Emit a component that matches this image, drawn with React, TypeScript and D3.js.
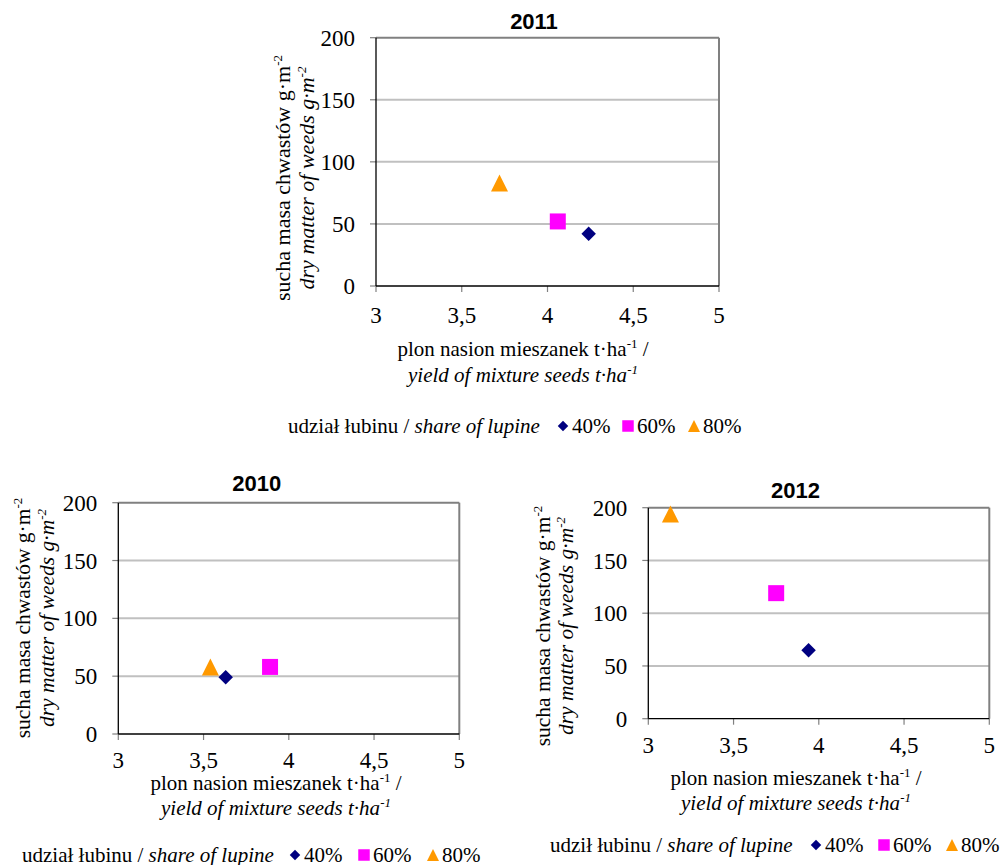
import * as d3 from "d3";

// udział łubinu w mieszance
const SHARES = ["40%", "60%", "80%"];
const SHARE_COLORS = ["#000080", "#FF00FF", "#FF9900"];

// plon nasion mieszanek (t/ha) i sucha masa chwastów (g/m2), kolejność jak SHARES
const YIELD_2010 = [3.63, 3.89, 3.54];
const WEEDS_2010 = [49, 58, 58];
const YIELD_2011 = [4.24, 4.06, 3.72];
const WEEDS_2011 = [42, 52, 83];
const YIELD_2012 = [3.94, 3.75, 3.13];
const WEEDS_2012 = [65, 119, 194];

const X_TICKS = [3, 3.5, 4, 4.5, 5];
const Y_TICKS = [0, 50, 100, 150, 200];

const SERIF = '"Liberation Serif", "Times New Roman", Times, "DejaVu Serif", serif';
const SANS = '"Liberation Sans", Arial, sans-serif';

type SymbolKind = "diamond" | "square" | "triangle";
const SHAPES: SymbolKind[] = ["diamond", "square", "triangle"];

const diamondType: d3.SymbolType = {
  draw(ctx, size) {
    const r = Math.sqrt(size) / 2;
    ctx.moveTo(0, -r);
    ctx.lineTo(r, 0);
    ctx.lineTo(0, r);
    ctx.lineTo(-r, 0);
    ctx.closePath();
  },
};

// Excel-style triangle: width == height
const triangleType: d3.SymbolType = {
  draw(ctx, size) {
    const s = Math.sqrt(size);
    ctx.moveTo(0, -s / 2);
    ctx.lineTo(s / 2, s / 2);
    ctx.lineTo(-s / 2, s / 2);
    ctx.closePath();
  },
};

function markerPath(kind: SymbolKind, side: number) {
  const type =
    kind === "diamond" ? diamondType : kind === "square" ? d3.symbolSquare : triangleType;
  return d3.symbol().type(type).size(side * side)() ?? "";
}

const MARK_SIDE = { diamond: 14.5, square: 16, triangle: 17 };
const LEGEND_SIDE = { diamond: 10.5, square: 11.5, triangle: 12 };

interface PanelLayout {
  year: string;
  xs: number[];
  ys: number[];
  left: number;
  right: number;
  top: number;
  bottom: number;
  titleX: number;
  titleY: number;
  xTitleX: number;
  xTitleY: [number, number];
  xTickY: number;
  yTitleX: [number, number];
  yTitleCY: number;
  yTitleSize: number;
  legendLabel: string;
  legendX: number;
  legendY: number;
  legendMarks: number[];
}

const PANELS: PanelLayout[] = [
  {
    year: "2011",
    xs: YIELD_2011,
    ys: WEEDS_2011,
    left: 376,
    right: 719,
    top: 37.7,
    bottom: 286,
    titleX: 534,
    titleY: 28.5,
    xTitleX: 523,
    xTitleY: [356, 382],
    xTickY: 323,
    yTitleX: [290, 314],
    yTitleCY: 178,
    yTitleSize: 22,
    legendLabel: "udział łubinu / ",
    legendX: 288,
    legendY: 433,
    legendMarks: [563, 628, 694],
  },
  {
    year: "2010",
    xs: YIELD_2010,
    ys: WEEDS_2010,
    left: 118.3,
    right: 459.3,
    top: 502.7,
    bottom: 734,
    titleX: 256.7,
    titleY: 491,
    xTitleX: 276,
    xTitleY: [790, 815],
    xTickY: 768,
    yTitleX: [30, 54],
    yTitleCY: 618,
    yTitleSize: 21.5,
    legendLabel: "udział łubinu / ",
    legendX: 22,
    legendY: 862,
    legendMarks: [295, 364, 433],
  },
  {
    year: "2012",
    xs: YIELD_2012,
    ys: WEEDS_2012,
    left: 648.3,
    right: 989.3,
    top: 507.7,
    bottom: 718.7,
    titleX: 795.6,
    titleY: 498,
    xTitleX: 796,
    xTitleY: [785, 810],
    xTickY: 753,
    yTitleX: [550, 573],
    yTitleCY: 626,
    yTitleSize: 21.5,
    legendLabel: "udził łubinu / ",
    legendX: 550,
    legendY: 852,
    legendMarks: [816, 884, 952],
  },
];

// text with a raised exponent, e.g. "t·ha" + "-1" + " /"
function WithSup({ base, sup, tail }: { base: string; sup: string; tail?: string }) {
  return (
    <>
      {base}
      <tspan dy={-8} fontSize={13}>
        {sup}
      </tspan>
      {tail ? <tspan dy={8}>{tail}</tspan> : null}
    </>
  );
}

function ScatterPanel({ p }: { p: PanelLayout }) {
  const x = d3.scaleLinear().domain([3, 5]).range([p.left, p.right]);
  const y = d3.scaleLinear().domain([0, 200]).range([p.bottom, p.top]);

  return (
    <g>
      <text
        x={p.titleX}
        y={p.titleY}
        textAnchor="middle"
        style={{ fontFamily: SANS, fontWeight: "bold", fontSize: 22 }}
      >
        {p.year}
      </text>

      {/* grid */}
      {Y_TICKS.filter((t) => t > 0 && t < 200).map((t) => (
        <line
          key={t}
          x1={p.left}
          x2={p.right}
          y1={y(t)}
          y2={y(t)}
          stroke="#c0c0c0"
          strokeWidth={2}
        />
      ))}

      {/* frame */}
      <line x1={p.left} x2={p.right} y1={p.top} y2={p.top} stroke="#808080" strokeWidth={2} />
      <line x1={p.right} x2={p.right} y1={p.top} y2={p.bottom} stroke="#808080" strokeWidth={2} />

      {/* y ticks */}
      {Y_TICKS.map((t) => (
        <g key={t}>
          <line
            x1={p.left - 6}
            x2={p.left}
            y1={y(t)}
            y2={y(t)}
            stroke="#808080"
            strokeWidth={1.2}
          />
          <text
            x={p.left - 21}
            y={y(t)}
            dy="0.35em"
            textAnchor="end"
            style={{ fontFamily: SERIF, fontSize: 23 }}
          >
            {t}
          </text>
        </g>
      ))}

      {/* x ticks */}
      {X_TICKS.map((t) => (
        <g key={t}>
          <line
            x1={x(t)}
            x2={x(t)}
            y1={p.bottom}
            y2={p.bottom + 6}
            stroke="#808080"
            strokeWidth={1.2}
          />
          <text
            x={x(t)}
            y={p.xTickY}
            textAnchor="middle"
            style={{ fontFamily: SERIF, fontSize: 23 }}
          >
            {String(t).replace(".", ",")}
          </text>
        </g>
      ))}

      {/* axes */}
      <line x1={p.left} x2={p.left} y1={p.top} y2={p.bottom} stroke="#000" strokeWidth={1.3} />
      <line x1={p.left} x2={p.right} y1={p.bottom} y2={p.bottom} stroke="#000" strokeWidth={1.3} />

      {/* points */}
      {SHARES.map((s, i) => (
        <path
          key={s}
          d={markerPath(SHAPES[i], MARK_SIDE[SHAPES[i]])}
          transform={`translate(${x(p.xs[i])},${y(p.ys[i])})`}
          fill={SHARE_COLORS[i]}
        />
      ))}

      {/* x axis title */}
      <text
        x={p.xTitleX}
        y={p.xTitleY[0]}
        textAnchor="middle"
        style={{ fontFamily: SERIF, fontSize: 21 }}
      >
        <WithSup base="plon nasion mieszanek t·ha" sup="-1" tail=" /" />
      </text>
      <text
        x={p.xTitleX}
        y={p.xTitleY[1]}
        textAnchor="middle"
        style={{ fontFamily: SERIF, fontSize: 21, fontStyle: "italic" }}
      >
        <WithSup base="yield of mixture seeds t·ha" sup="-1" />
      </text>

      {/* y axis title */}
      <text
        transform={`translate(${p.yTitleX[0]},${p.yTitleCY}) rotate(-90)`}
        textAnchor="middle"
        style={{ fontFamily: SERIF, fontSize: p.yTitleSize }}
      >
        <WithSup base="sucha masa chwastów g·m" sup="-2" />
      </text>
      <text
        transform={`translate(${p.yTitleX[1]},${p.yTitleCY}) rotate(-90)`}
        textAnchor="middle"
        style={{ fontFamily: SERIF, fontSize: p.yTitleSize, fontStyle: "italic" }}
      >
        <WithSup base="dry matter of weeds g·m" sup="-2" />
      </text>

      {/* legend */}
      <text x={p.legendX} y={p.legendY} style={{ fontFamily: SERIF, fontSize: 21 }}>
        {p.legendLabel}
        <tspan fontStyle="italic">share of lupine</tspan>
      </text>
      {SHARES.map((s, i) => (
        <g key={s}>
          <path
            d={markerPath(SHAPES[i], LEGEND_SIDE[SHAPES[i]])}
            transform={`translate(${p.legendMarks[i]},${p.legendY - 7})`}
            fill={SHARE_COLORS[i]}
          />
          <text
            x={p.legendMarks[i] + 9}
            y={p.legendY}
            style={{ fontFamily: SERIF, fontSize: 21 }}
          >
            {s}
          </text>
        </g>
      ))}
    </g>
  );
}

export default function App() {
  return (
    <svg
      width={1003}
      height={865}
      viewBox="0 0 1003 865"
      style={{ position: "absolute", left: 0, top: 0, background: "#fff" }}
    >
      {PANELS.map((p) => (
        <ScatterPanel key={p.year} p={p} />
      ))}
    </svg>
  );
}
